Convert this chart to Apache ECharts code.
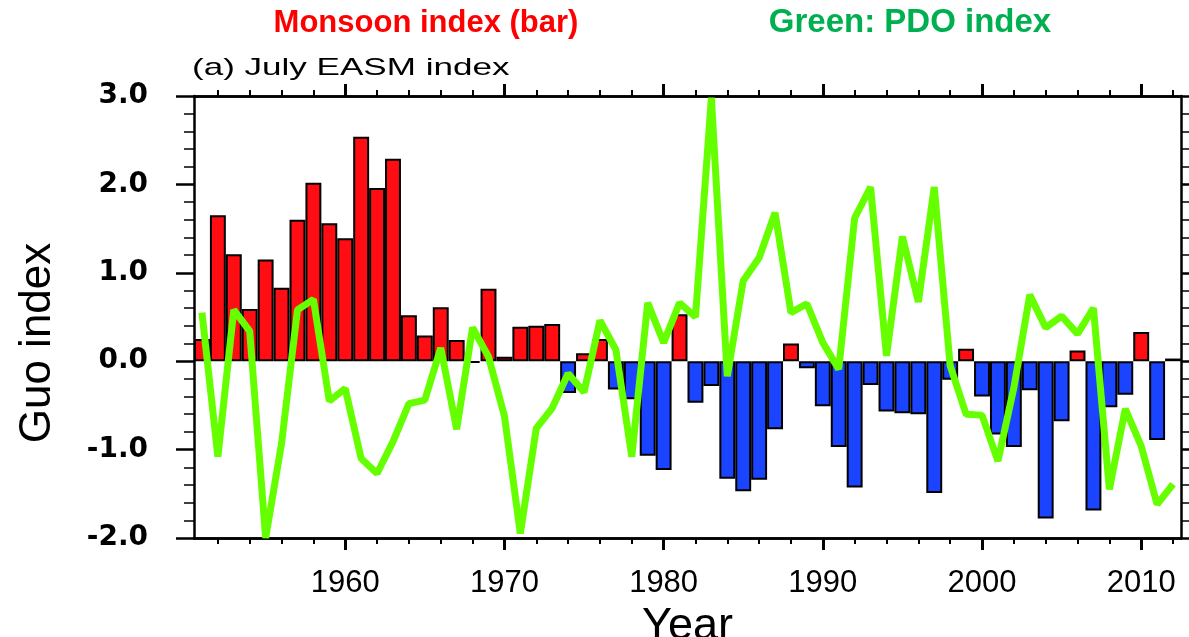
<!DOCTYPE html>
<html><head><meta charset="utf-8">
<script src="https://cdn.jsdelivr.net/npm/echarts@6/dist/echarts.min.js"></script>
<style>html,body{margin:0;padding:0;background:#fff}#c{width:1189px;height:637px}</style>
</head><body><div id="c"></div>
<script>
const years = ['1951','1952','1953','1954','1955','1956','1957','1958','1959','1960',
  '1961','1962','1963','1964','1965','1966','1967','1968','1969','1970',
  '1971','1972','1973','1974','1975','1976','1977','1978','1979','1980',
  '1981','1982','1983','1984','1985','1986','1987','1988','1989','1990',
  '1991','1992','1993','1994','1995','1996','1997','1998','1999','2000',
  '2001','2002','2003','2004','2005','2006','2007','2008','2009','2010',
  '2011','2012'];
const monsoonIndex = [0.25,1.65,1.21,0.59,1.15,0.83,1.60,2.02,1.56,1.39,
  2.54,1.96,2.29,0.52,0.29,0.61,0.24,-0.02,0.82,0.05,
  0.39,0.40,0.42,-0.36,0.09,0.25,-0.32,-0.43,-1.07,-1.23,
  0.53,-0.47,-0.28,-1.33,-1.47,-1.34,-0.77,0.20,-0.08,-0.51,
  -0.97,-1.43,-0.27,-0.57,-0.59,-0.60,-1.49,-0.21,0.14,-0.40,
  -0.83,-0.97,-0.33,-1.78,-0.68,0.12,-1.69,-0.52,-0.38,0.33,
  -0.89,0.03];
const pdoIndex = [0.55,-1.08,0.58,0.34,-2.0,-0.93,0.58,0.70,-0.45,-0.31,
  -1.10,-1.27,-0.91,-0.48,-0.44,0.15,-0.77,0.38,0.05,-0.62,
  -1.95,-0.76,-0.53,-0.14,-0.35,0.46,0.13,-1.08,0.66,0.21,
  0.66,0.50,2.98,-0.17,0.91,1.17,1.68,0.55,0.65,0.21,
  -0.09,1.62,1.97,0.06,1.41,0.67,1.97,-0.05,-0.60,-0.61,
  -1.13,-0.30,0.75,0.38,0.51,0.31,0.60,-1.45,-0.54,-0.96,
  -1.62,-1.39];
const titleBars = 'Monsoon index (bar)';
const titleLine = 'Green: PDO index';
const panelTitle = '(a) July EASM index';
const xName = 'Year';
const yName = 'Guo index';

const isMajor = (i, v) => (+v) % 10 === 0;
const isMinor = (i, v) => (+v) % 2 === 0 && (+v) % 10 !== 0;

function xAx(pos, major, withLabels) {
  const a = {
    type: 'category', data: years, position: pos, boundaryGap: true,
    axisLine: { show: true, onZero: false, lineStyle: { color: '#000', width: 2.5 } },
    axisTick: { show: true, alignWithLabel: true, interval: major ? isMajor : isMinor,
      length: major ? 12 : 6, lineStyle: { color: '#000', width: major ? 3 : 2 } },
    axisLabel: { show: false },
    splitLine: { show: false }
  };
  if (withLabels) {
    a.axisLabel = { show: true, interval: isMajor, color: '#000',
      fontFamily: 'Liberation Sans', fontSize: 31, margin: 30 };
    a.name = xName; a.nameLocation = 'middle'; a.nameGap = 60;
    a.nameTextStyle = { fontFamily: 'Liberation Sans', fontSize: 45, color: '#000' };
  }
  return a;
}
function yAx(pos, withLabels) {
  const a = {
    type: 'value', min: -2, max: 3, interval: 1, position: pos,
    axisLine: { show: true, onZero: false, lineStyle: { color: '#000', width: 2.5 } },
    axisTick: { show: true, length: 18, lineStyle: { color: '#000', width: 2.5 } },
    minorTick: { show: true, splitNumber: 5, length: 10, lineStyle: { color: '#000', width: 1.5 } },
    splitLine: { show: false }, minorSplitLine: { show: false },
    axisLabel: { show: false }
  };
  if (withLabels) {
    a.axisLabel = { show: true, formatter: v => v.toFixed(1), color: '#000',
      fontFamily: 'DejaVu Sans', fontWeight: 'bold', fontSize: 28, margin: 46 };
    a.name = yName; a.nameLocation = 'middle'; a.nameRotate = 90; a.nameGap = 134;
    a.nameTextStyle = { fontFamily: 'Liberation Sans', fontSize: 44,
      color: '#000', padding: [0, 52, 0, 0] };
  }
  return a;
}

const chart = echarts.init(document.getElementById('c'), null, { renderer: 'canvas' });
chart.setOption({
  animation: false,
  backgroundColor: '#fff',
  grid: { left: 194, right: 8, top: 96, bottom: 99, containLabel: false, outerBoundsMode: 'none' },
  xAxis: [xAx('bottom', true, true), xAx('bottom', false, false), xAx('top', true, false), xAx('top', false, false)],
  yAxis: [yAx('left', true), yAx('right', false)],
  graphic: [
    { type: 'text', x: 426, y: 23, style: { text: titleBars, font: 'bold 31px "Liberation Sans"', fill: '#ff0000', align: 'center', verticalAlign: 'middle' } },
    { type: 'text', x: 910, y: 23, style: { text: titleLine, font: 'bold 33px "Liberation Sans"', fill: '#00b050', align: 'center', verticalAlign: 'middle' } },
    { type: 'text', x: 192, y: 68, scaleX: 1.46, style: { text: panelTitle, font: '24px "Liberation Sans"', fill: '#000', align: 'left', verticalAlign: 'middle' } }
  ],
  series: [
    { type: 'bar', name: titleBars, xAxisIndex: 0, yAxisIndex: 0, data: monsoonIndex,
      barCategoryGap: '0%', z: 2,
      itemStyle: { borderColor: '#000', borderWidth: 2,
        color: p => p.value >= 0 ? '#ff0d12' : '#1a44ff' } },
    { type: 'line', name: titleLine, xAxisIndex: 0, yAxisIndex: 0, data: pdoIndex,
      symbol: 'none', z: 3, lineStyle: { color: '#66ff00', width: 7 }, itemStyle: { color: '#66ff00' } }
  ]
});
</script></body></html>
